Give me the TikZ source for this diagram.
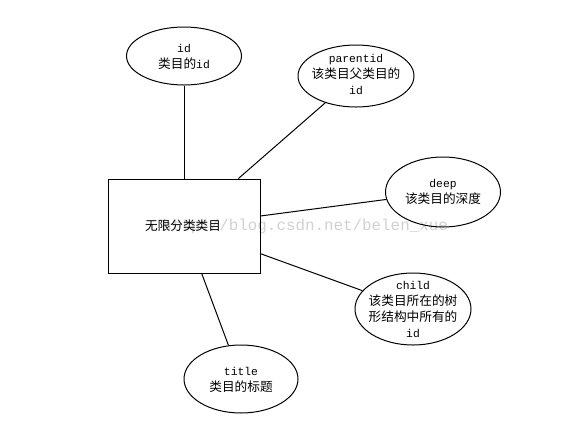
\documentclass[tikz,border=0pt]{standalone}
\usepackage{fontspec}
\setmonofont{Liberation Mono}
\newfontfamily\cjk{Noto Sans CJK SC}
\newcommand\zh[1]{{\cjk\fontsize{9.5}{12}\selectfont #1}}
\usetikzlibrary{shapes.geometric}
\begin{document}
\begin{tikzpicture}[x=0.75pt,y=-0.75pt,
  attr/.style={draw,ellipse,line width=0.75pt,inner sep=0pt},
  lbl/.style={align=center,font=\fontsize{8.5}{12}\selectfont\ttfamily,inner sep=0pt},
  entbox/.style={draw,rectangle,line width=0.75pt,minimum width=114pt,minimum height=70.5pt,inner sep=0pt},
  link/.style={line width=0.75pt},
  wmark/.style={font=\fontsize{11.9}{12}\selectfont\ttfamily,text=black!18,anchor=west,inner sep=0pt}]
\useasboundingbox (0,0) rectangle (575,429);
% watermark
\node[wmark] (wm) at (162,226) {http://blog.csdn.net/belen\_xue};
% entity
\node[entbox] (ent) at (184,226) {};
\node[inner sep=0pt] (entt) at (183,226) {\zh{无限分类类目}};
% attributes
\node[attr,minimum width=86.25pt,minimum height=43.5pt] (id) at (184,56) {};
\node[attr,minimum width=87pt,minimum height=46.5pt] (pid) at (356,76) {};
\node[attr,minimum width=86.25pt,minimum height=52.5pt] (deep) at (443,192) {};
\node[attr,minimum width=87pt,minimum height=54pt] (child) at (413,309) {};
\node[attr,minimum width=85.5pt,minimum height=51pt] (title) at (241,379) {};
% labels
\node[lbl] (idt) at (184,57) {id\\\zh{类目的}id};
\node[lbl] (pidt) at (356,74) {parentid\\\zh{该类目父类目的}\\id};
\node[lbl] (deept) at (443,192) {deep\\\zh{该类目的深度}};
\node[lbl] (childt) at (413,309) {child\\\zh{该类目所在的树}\\\zh{形结构中所有的}\\id};
\node[lbl] (titlet) at (241,380) {title\\\zh{类目的标题}};
% connectors
\draw[link] (ent) -- (id);
\draw[link] (ent) -- (pid);
\draw[link] (ent) -- (deep);
\draw[link] (ent) -- (child);
\draw[link] (ent) -- (title);
\end{tikzpicture}
\end{document}
